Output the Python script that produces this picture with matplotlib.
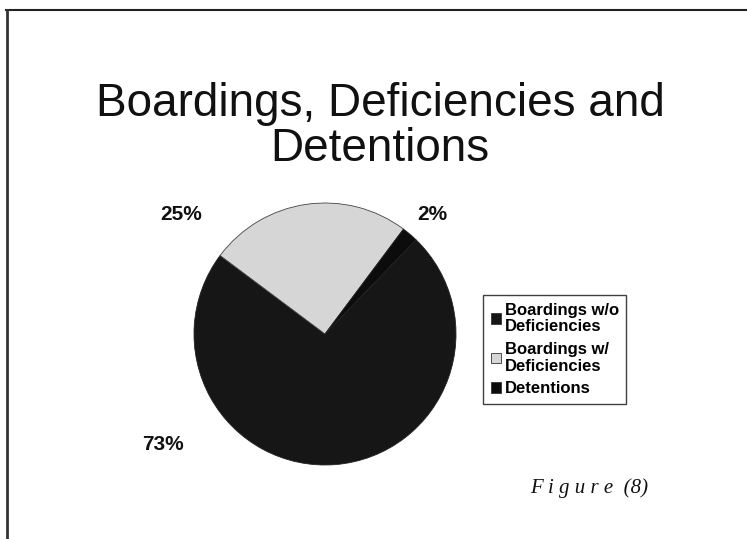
import matplotlib.pyplot as plt
from matplotlib.lines import Line2D
from matplotlib.patches import Patch

# shares of the three inspection outcomes
categories = ['Boardings w/o\nDeficiencies', 'Boardings w/\nDeficiencies', 'Detentions']
shares = [73, 25, 2]
pct_labels = ['73%', '25%', '2%']
colors = ['#161616', '#d6d6d6', '#0c0c0c']

W, H = 747, 539
fig = plt.figure(figsize=(W / 100, H / 100), dpi=100)
fig.patch.set_facecolor('white')
plt.rcParams['font.family'] = ['Liberation Sans', 'DejaVu Sans']

# frame lines (top and left)
fig.add_artist(Line2D([6 / W, 1], [1 - 10 / H, 1 - 10 / H], color='#222222', lw=1.5))
fig.add_artist(Line2D([7 / W, 7 / W], [0, 1 - 10 / H], color='#333333', lw=2))

fig.text(380 / W, 1 - 116 / H, 'Boardings, Deficiencies and', ha='center', va='baseline',
         fontsize=33, color='#111111')
fig.text(380 / W, 1 - 161 / H, 'Detentions', ha='center', va='baseline',
         fontsize=33, color='#111111')

cx, cy, r = 325, 334, 131
ax = fig.add_axes([(cx - r) / W, (H - cy - r) / H, 2 * r / W, 2 * r / H])
wedges, _ = ax.pie(shares, colors=colors, startangle=46, counterclock=False,
                   wedgeprops=dict(edgecolor='#444444', linewidth=0.6))
# dark slices blend into each other
wedges[0].set_edgecolor('#222222')
wedges[2].set_edgecolor('#222222')
ax.set_xlim(-1, 1)
ax.set_ylim(-1, 1)
ax.set_aspect('equal')
ax.axis('off')

# percentage labels placed outside the pie
label_pos = [(163, 445), (181, 215), (432, 215)]
for txt, (x, y) in zip(pct_labels, label_pos):
    fig.text(x / W, 1 - y / H, txt, ha='center', va='center', fontsize=15,
             fontweight='bold', color='#111111')

handles = [Patch(facecolor=c, edgecolor='#333333', linewidth=0.6) for c in colors]
leg = fig.legend(handles, categories, loc='upper left',
                 bbox_to_anchor=(483 / W, 1 - 295 / H), frameon=True, fancybox=False,
                 prop=dict(weight='bold', size=12), handlelength=0.6, handleheight=0.6,
                 handletextpad=0.25, labelspacing=0.45, borderpad=0.45, borderaxespad=0)
leg.get_frame().set_edgecolor('#111111')
leg.get_frame().set_linewidth(1.0)
for t in leg.get_texts():
    t.set_linespacing(1.15)

fig.text(589 / W, 1 - 488 / H, 'F i g u r e  (8)', ha='center', va='center', fontsize=15,
         fontstyle='italic', family=['Liberation Serif', 'DejaVu Serif'], color='#111111')

fig.savefig('out.png', dpi=100, facecolor='white')
